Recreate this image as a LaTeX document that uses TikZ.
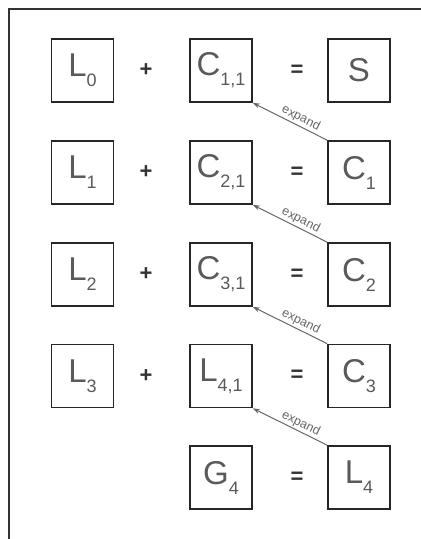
\documentclass[tikz,border=0pt]{standalone}
\usepackage{fontspec}
\setmainfont{Liberation Sans}
\usetikzlibrary{arrows.meta}
\definecolor{txtgray}{HTML}{5A5A5A}
\definecolor{arrgray}{HTML}{666666}
\newcommand{\term}[2]{#1\raisebox{-10pt}{\fontsize{18}{18}\selectfont #2}}
\begin{document}
\begin{tikzpicture}[
    x=1pt,y=-1pt,
    box/.style={draw=black!85,line width=1.7pt,minimum width=62pt,
        minimum height=63pt,inner sep=0pt,text=txtgray,
        font=\fontsize{33}{33}\selectfont},
    oper/.style={text=black!80,font=\fontsize{22}{22}\selectfont\bfseries},
    expand/.style={arrgray,line width=1pt,-{Stealth[length=7pt,width=5pt]}}]
    \useasboundingbox (0,0) rectangle (421,539);
    \draw[black!80,line width=1.8pt] (421,9) -- (9,9) -- (9,539);
    % row 0
    \node[box] (l0) at (82.5,70.5) {\term{L}{0}};
    \node[box] (c11) at (221,70.5) {\term{C}{1,1}};
    \node[box] (s) at (359,70.5) {S};
    % row 1
    \node[box] (l1) at (82.5,172.5) {\term{L}{1}};
    \node[box] (c21) at (221,172.5) {\term{C}{2,1}};
    \node[box] (c1) at (359,172.5) {\term{C}{1}};
    % row 2
    \node[box] (l2) at (82.5,274.5) {\term{L}{2}};
    \node[box] (c31) at (221,274.5) {\term{C}{3,1}};
    \node[box] (c2) at (359,274.5) {\term{C}{2}};
    % row 3
    \node[box] (l3) at (82.5,376) {\term{L}{3}};
    \node[box] (l41) at (221,376) {\term{L}{4,1}};
    \node[box] (c3) at (359,376) {\term{C}{3}};
    % row 4
    \node[box] (g4) at (221,477.5) {\term{G}{4}};
    \node[box] (l4) at (359,477.5) {\term{L}{4}};
    \foreach \y/\n in {70.5/0,172.5/1,274.5/2,376/3}
        \node[oper] (plus\n) at (146,\y) {+};
    \foreach \y/\n in {70.5/0,172.5/1,274.5/2,376/3,477.5/4}
        \node[oper] (eq\n) at (297,\y) {=};
    \foreach \from/\to in {c1/c11,c2/c21,c3/c31,l4/l41}
        \draw[expand] (\from.north west) -- (\to.south east)
            node[pos=.4,sloped,above,inner sep=1.5pt,
                font=\fontsize{12.5}{12.5}\selectfont] {expand};
\end{tikzpicture}
\end{document}
